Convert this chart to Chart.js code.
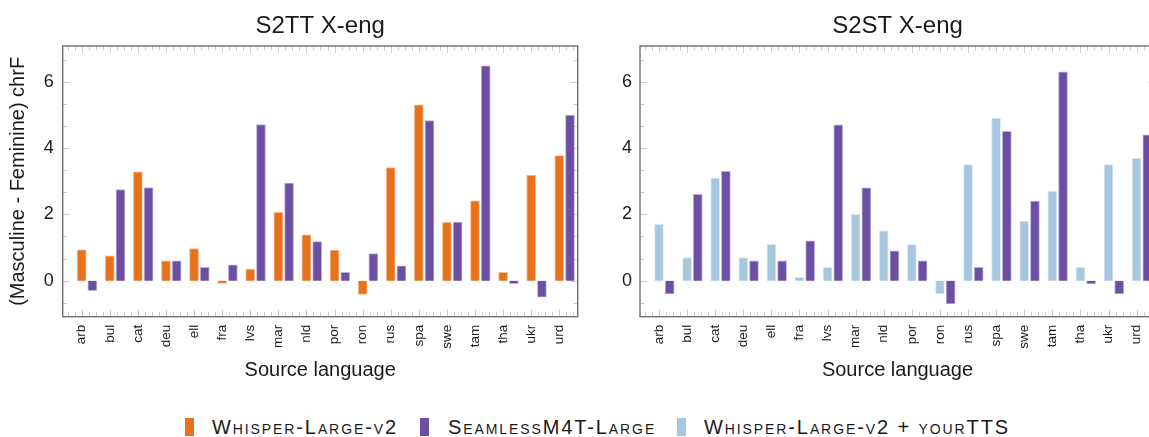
<!DOCTYPE html>
<html>
<head>
<meta charset="utf-8">
<script src="https://cdn.jsdelivr.net/npm/chart.js@4.4.1/dist/chart.umd.min.js"></script>
<style>
  html, body { margin: 0; padding: 0; background: #fff; }
  body { width: 1149px; height: 437px; overflow: hidden; position: relative; font-family: "Liberation Sans", Arial, sans-serif; }
  .panel { position: absolute; top: 0; }
  .key { position: absolute; top: 418px; width: 9px; height: 18px; }
  .lbl { position: absolute; top: 417px; font-size: 20px; line-height: 20px; font-variant: small-caps; letter-spacing: 1.9px; color: #1a1a1a; white-space: nowrap; }
</style>
</head>
<body>
<canvas id="c1" class="panel" width="600" height="400" style="left:0"></canvas>
<canvas id="c2" class="panel" width="585" height="400" style="left:580px"></canvas>

<div class="key" style="left:185px;background:#e8721c"></div>
<div class="lbl" style="left:212px">Whisper-Large-v2</div>
<div class="key" style="left:420px;background:#6a4fa3"></div>
<div class="lbl" style="left:448px">SeamlessM4T-Large</div>
<div class="key" style="left:677px;background:#a6c7df"></div>
<div class="lbl" style="left:704px">Whisper-Large-v2 + yourTTS</div>

<script>
const langs = ["arb", "bul", "cat", "deu", "ell", "fra", "lvs", "mar", "nld",
               "por", "ron", "rus", "spa", "swe", "tam", "tha", "ukr", "urd"];
const yTicks = [0, 2, 4, 6];

// S2TT X-eng
const whisperS2TT  = [0.93, 0.75, 3.28, 0.60, 0.97, -0.08, 0.35, 2.06, 1.38,
                      0.92, -0.41, 3.41, 5.30, 1.76, 2.41, 0.25, 3.18, 3.77];
const seamlessS2TT = [-0.30, 2.75, 2.81, 0.60, 0.40, 0.48, 4.71, 2.94, 1.18,
                      0.25, 0.82, 0.45, 4.83, 1.77, 6.48, -0.09, -0.50, 4.99];

// S2ST X-eng
const whisperTTS   = [1.7, 0.7, 3.1, 0.7, 1.1, 0.1, 0.4, 2.0, 1.5,
                      1.1, -0.4, 3.5, 4.9, 1.8, 2.7, 0.4, 3.5, 3.7];
const seamlessS2ST = [-0.4, 2.6, 3.3, 0.6, 0.6, 1.2, 4.7, 2.8, 0.9,
                      0.6, -0.7, 0.4, 4.5, 2.4, 6.3, -0.1, -0.4, 4.4];

const FONT = '"Liberation Sans", Arial, sans-serif';
const INK = "#1a1a1a";
const ORANGE = "#e8721c", PURPLE = "#6a4fa3", BLUE = "#a6c7df";

const X_MIN = -0.676, X_MAX = 17.655;
const SHIFT = 0.381;          // second bar sits this far right of the tick
const Y_MIN = -1.085, Y_MAX = 7.075;

/* frame + inward tick marks like pgfplots */
const frameTicks = {
  id: "frameTicks",
  beforeDatasetsDraw(chart) {
    const { ctx, chartArea: a, scales } = chart;
    const x = scales.x, y = scales.y;
    ctx.save();
    ctx.strokeStyle = "#cbcbcb";
    ctx.lineWidth = 1;
    ctx.beginPath();
    for (let v = Math.ceil(X_MIN * 4) / 4; v <= X_MAX; v += 0.25) {
      const px = Math.round(x.getPixelForValue(v)) + 0.5;
      const len = Number.isInteger(v) ? 7 : 4.5;
      ctx.moveTo(px, a.bottom); ctx.lineTo(px, a.bottom - len);
      ctx.moveTo(px, a.top); ctx.lineTo(px, a.top + len);
    }
    for (let k = Math.ceil(Y_MIN * 1.5); k <= Math.floor(Y_MAX * 1.5); k++) {
      const py = Math.round(y.getPixelForValue(k / 1.5)) + 0.5;
      const len = k % 3 === 0 ? 7 : 4.5;
      ctx.moveTo(a.left, py); ctx.lineTo(a.left + len, py);
      ctx.moveTo(a.right, py); ctx.lineTo(a.right - len, py);
    }
    ctx.stroke();
    ctx.restore();
  },
  afterDatasetsDraw(chart) {
    const { ctx, chartArea: a } = chart;
    ctx.save();
    ctx.strokeStyle = "#6e6e6e";
    ctx.lineWidth = 1.4;
    ctx.strokeRect(a.left, a.top, a.right - a.left, a.bottom - a.top);
    ctx.restore();
  }
};

function points(values) {
  return values.map((v, i) => ({ x: i, y: v }));
}

function makeChart(id, title, first, second, opts) {
  return new Chart(document.getElementById(id), {
    type: "bar",
    data: {
      datasets: [
        { label: first.label, data: points(first.values), xAxisID: "x",
          backgroundColor: first.color, borderColor: first.edge, borderWidth: 1 },
        { label: second.label, data: points(second.values), xAxisID: "x2",
          backgroundColor: second.color, borderColor: second.edge, borderWidth: 1 }
      ]
    },
    options: {
      responsive: false,
      animation: false,
      grouped: false,
      barThickness: 9,
      layout: { padding: { left: 0, right: opts.padRight, top: 0, bottom: 0 } },
      plugins: {
        legend: { display: false },
        tooltip: { enabled: false },
        title: {
          display: true, text: title, fullSize: false, color: INK,
          font: { family: FONT, size: 24, weight: "normal" },
          padding: { top: 12.4, bottom: 4.8 }
        }
      },
      scales: {
        x: {
          type: "linear", min: X_MIN, max: X_MAX, offset: false, bounds: "data",
          afterBuildTicks: s => { s.ticks = langs.map((_, i) => ({ value: i })); },
          afterFit: s => { s.height = 83.3; },
          ticks: {
            callback: v => langs[v], autoSkip: false,
            minRotation: 90, maxRotation: 90, padding: 8,
            color: INK, font: { family: FONT, size: 13.5 }
          },
          grid: { display: false, drawTicks: false, offset: false },
          border: { display: false },
          title: {
            display: true, text: "Source language", color: INK,
            font: { family: FONT, size: 20 }, padding: { top: 0, bottom: 17.5 }
          }
        },
        x2: {
          type: "linear", display: false, offset: false, bounds: "data",
          min: X_MIN - SHIFT, max: X_MAX - SHIFT,
          grid: { offset: false }
        },
        y: {
          min: Y_MIN, max: Y_MAX,
          afterBuildTicks: s => { s.ticks = yTicks.map(v => ({ value: v })); },
          afterFit: s => { s.width = opts.yWidth; },
          ticks: { padding: opts.tickPad, color: INK, font: { family: FONT, size: 18 } },
          grid: { display: false, drawTicks: false },
          border: { display: false },
          title: {
            display: !!opts.yTitle, text: opts.yTitle || "", color: INK,
            font: { family: FONT, size: 20 }, padding: { top: 6.3, bottom: 0 }
          }
        }
      }
    },
    plugins: [frameTicks]
  });
}

makeChart("c1", "S2TT X-eng",
  { label: "Whisper-Large-v2", values: whisperS2TT, color: ORANGE, edge: "#f4b88a" },
  { label: "SeamlessM4T-Large", values: seamlessS2TT, color: PURPLE, edge: "#bcaedb" },
  { yWidth: 62.7, padRight: 22.3, tickPad: 9, yTitle: "(Masculine - Feminine) chrF" });

makeChart("c2", "S2ST X-eng",
  { label: "Whisper-Large-v2 + yourTTS", values: whisperTTS, color: BLUE, edge: "#dbe9f3" },
  { label: "SeamlessM4T-Large", values: seamlessS2ST, color: PURPLE, edge: "#bcaedb" },
  { yWidth: 60, padRight: 10, tickPad: 8 });
</script>
</body>
</html>
